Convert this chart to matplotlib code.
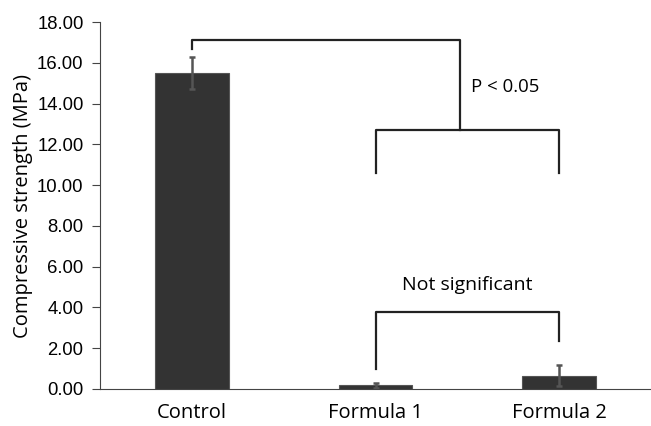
import numpy as np
import matplotlib.pyplot as plt
from matplotlib.ticker import FormatStrFormatter

# Datos
groups = ['Control', 'Formula 1', 'Formula 2']
strength = [15.5, 0.18, 0.65]
strength_err = [0.78, 0.12, 0.52]

fig = plt.figure(figsize=(6.51, 4.26), dpi=100)
ax = fig.add_axes([0.154, 0.087, 0.846, 0.861])

x = np.arange(len(groups))
ax.bar(x, strength, width=0.4, color='#333333', edgecolor='#555555', linewidth=0.8)
ax.errorbar(x, strength, yerr=strength_err, fmt='none', ecolor='#555555',
            elinewidth=1.8, capsize=2, capthick=1.8)

ax.set_xlim(-0.5, 2.5)
ax.set_ylim(0, 18)
ax.set_yticks(np.arange(0, 18.1, 2))
ax.yaxis.set_major_formatter(FormatStrFormatter('%.2f'))
ax.set_xticks(x)
ax.set_xticklabels(groups, fontfamily='Open Sans', fontsize=14.5)
ax.tick_params(axis='x', length=0, pad=10)
ax.tick_params(axis='y', labelsize=13.3, length=6, direction='out', color='#444444', pad=6)
for lab in ax.get_yticklabels():
    lab.set_fontfamily('Liberation Sans')
ax.set_ylabel('Compressive strength (MPa)', fontfamily='Open Sans', fontsize=14.5, labelpad=3)
ax.spines['top'].set_visible(False)
ax.spines['right'].set_visible(False)
ax.spines['left'].set_color('#444444')
ax.spines['bottom'].set_color('#444444')

# Corchetes de significancia
lw = 1.6
mid = 1.46
ax.plot([0, 0, mid, mid], [16.7, 17.1, 17.1, 12.7], color='#222222', lw=lw)
ax.plot([1, 1, 2, 2], [10.6, 12.7, 12.7, 10.6], color='#222222', lw=lw)
ax.text(1.52, 14.8, 'P < 0.05', fontfamily='Open Sans', fontsize=13.4, va='center')
ax.plot([1, 1, 2, 2], [1.0, 3.8, 3.8, 2.35], color='#222222', lw=lw)
ax.text(1.5, 5.1, 'Not significant', fontfamily='Open Sans', fontsize=14, ha='center', va='center')

fig.savefig('out.png', dpi=100)
